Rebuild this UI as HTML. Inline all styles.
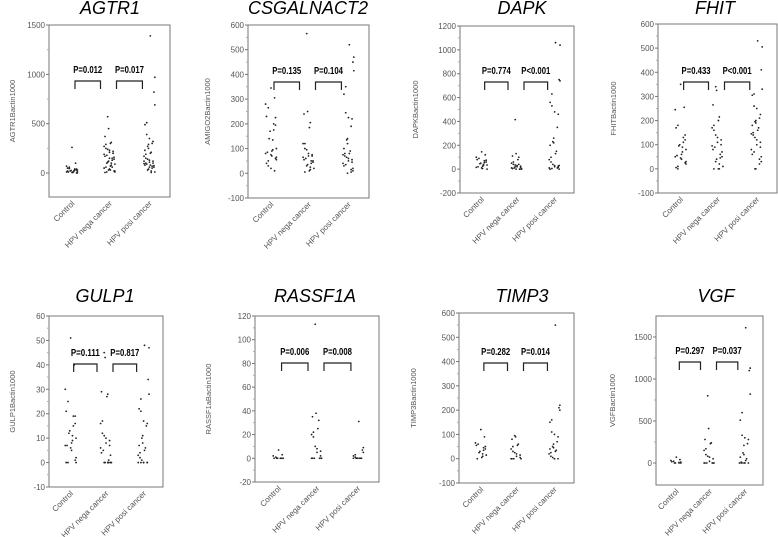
<!DOCTYPE html>
<html><head><meta charset="utf-8"><style>
html,body{margin:0;padding:0;background:#fff;}
svg{display:block;font-family:"Liberation Sans",sans-serif;}
</style></head><body>
<svg id="fig" width="778" height="537" viewBox="0 0 778 537"></svg>
<script>
const categories = ["Control","HPV nega cancer","HPV posi cancer"];
const genes = ["AGTR1","CSGALNACT2","DAPK","FHIT","GULP1","RASSF1A","TIMP3","VGF"];
const yLabels = ["AGTR1Bactin1000","AMIGO2Bactin1000","DAPKBactin1000","FHITBactin1000","GULP1Bactin1000","RASSF1aBactin1000","TIMP3Bactin1000","VGFBactin1000"];
const pLeft = ["P=0.012","P=0.135","P=0.774","P=0.433","P=0.111","P=0.006","P=0.282","P=0.297"];
const pRight = ["P=0.017","P=0.104","P<0.001","P<0.001","P=0.817","P=0.008","P=0.014","P=0.037"];
const yMin = [-243,-100,-200,-100,-10,-20,-100,-262];
const yMax = [1500,600,1200,600,60,120,600,1750];
const tickVals = [[0,500,1000,1500],[-100,0,100,200,300,400,500,600],[-200,0,200,400,600,800,1000,1200],[-100,0,100,200,300,400,500,600],[-10,0,10,20,30,40,50,60],[-20,0,20,40,60,80,100,120],[-100,0,100,200,300,400,500,600],[0,500,1000,1500]];
const controlVals = [
[260,100,70,60,50,40,40,30,30,25,20,20,15,15,10,10,10,5,5,0,0,30,45,20],
[345,305,280,265,230,225,200,195,175,170,140,135,100,95,90,85,80,75,70,65,60,55,50,40,30,20,10],
[145,120,100,90,80,75,70,60,55,50,45,40,35,30,25,20,15,10,5,0],
[350,255,245,180,170,140,130,120,110,100,95,90,80,70,60,55,50,45,40,30,25,20,10,5,0],
[51,40,30,25,21,19,19,16,15,13,12,11,10,9,8,7,7,6,5,2,1,0,0,0],
[7,3,2,1,0,0,0,0,0,0,0,0],
[120,90,65,60,55,50,45,40,35,30,25,20,15,10,5,0],
[70,40,30,20,15,10,5,0,0,0,0]];
const negaVals = [
[570,450,370,310,300,290,270,250,240,230,220,210,200,190,180,170,160,150,140,130,120,110,100,90,80,70,60,50,40,30,20,20,10,10,5,100,150,200,60,30],
[565,250,240,205,185,120,120,100,95,80,75,70,70,65,60,55,50,50,45,40,35,30,25,20,15,10,5],
[415,130,110,100,80,60,50,40,35,30,25,20,15,10,10,5,5,0,0,0,0,20,40],
[340,325,265,215,200,180,170,160,140,130,120,110,100,95,90,80,70,60,50,45,40,30,20,10,0,0,0],
[45,43,29,28,27,17,16,12,11,10,9,8,7,6,5,4,3,1,0,0,0,0,0,0,0],
[113,38,35,32,25,22,20,18,10,8,6,5,2,0,0,0,0,0,0,0],
[95,90,80,60,55,50,40,30,25,20,15,10,5,0,0,0,0],
[800,410,280,240,230,170,150,100,80,70,50,20,0,0,0,0,0,0]];
const posiVals = [
[1390,970,820,690,510,490,390,350,320,300,290,270,250,230,210,200,190,170,150,140,130,120,110,100,95,90,80,75,70,60,50,40,30,20,10,5,80,100,120,60],
[520,470,450,415,350,320,245,225,220,190,140,135,120,100,90,80,80,75,70,65,60,55,50,45,40,35,30,20,15,10,5,0],
[1060,1040,750,740,630,560,530,480,460,350,260,230,220,200,150,130,100,80,60,40,30,25,20,15,10,5,0,0,10,30],
[530,505,410,330,310,305,260,250,225,210,200,195,190,180,170,160,150,145,140,130,120,110,100,90,80,70,60,50,40,30,20,0,0],
[48,47,34,28,26,22,21,17,16,15,11,10,8,7,6,5,4,3,2,1,0,0,0,0,0,0],
[31,9,7,5,3,2,1,0,0,0,0,0,0,0,0],
[550,220,210,200,160,150,110,100,90,70,60,50,45,40,35,30,25,20,10,5,0,0,0],
[1610,1130,1100,820,600,510,330,300,280,230,210,120,100,70,50,30,10,0,0,0,0,0,0]];

const boxes = [
 {l:49,r:170,t:25,b:197,tx:110,ty:14,yl:12,br:81},
 {l:248,r:369,t:25,b:198,tx:308,ty:14,yl:207,br:82},
 {l:460,r:574,t:26,b:193,tx:522,ty:14,yl:415,br:82},
 {l:658,r:777,t:24,b:193,tx:715,ty:14,yl:613,br:82},
 {l:49,r:163,t:316,b:487,tx:105,ty:302,yl:12,br:364},
 {l:255,r:379,t:316,b:482,tx:315,ty:302,yl:208,br:363},
 {l:459,r:574,t:313,b:483,tx:522,ty:302,yl:413,br:363},
 {l:656,r:763,t:316,b:485,tx:716,ty:302,yl:612,br:362}];
const jitterPattern=[0,-5,3,-2,6,-6,1,4,-3,5,-1,2,-4,6,-6,0,3,-5,1,-2,5,-3,4,-1,2,-4,0,6,-5,3,-2,1,-6,4,-3,5,-1,2,-4,0];

const NS="http://www.w3.org/2000/svg";
const svg=document.getElementById('fig');
function mk(tag,attrs,parent){const e=document.createElementNS(NS,tag);for(const k in attrs)e.setAttribute(k,attrs[k]);(parent||svg).appendChild(e);return e;}

genes.forEach((g,i)=>{
  const B=boxes[i];
  const grp=mk('g',{});
  
  
  const y=v=>B.b-(v-yMin[i])/(yMax[i]-yMin[i])*(B.b-B.t);
  const w=B.r-B.l;
  const cx=k=>B.l+w*[0.19,0.5,0.83][k];
  const title=mk('text',{x:B.tx,y:B.ty,'text-anchor':'middle','font-size':18,'font-style':'italic',fill:'#000'},grp);
  title.textContent=g;
  
  
  const box=mk('rect',{x:B.l,y:B.t,width:w,height:B.b-B.t,fill:'none',stroke:'#777','stroke-width':1},grp);
  
  
  const tv0=tickVals[i];
  tv0.forEach((tv,n)=>{
    const ty=y(tv);
    mk('line',{x1:B.l-3,x2:B.l,y1:ty,y2:ty,stroke:'#777'},grp);
    if(n<tv0.length-1){const my=(ty+y(tv0[n+1]))/2;mk('line',{x1:B.l-2,x2:B.l,y1:my,y2:my,stroke:'#aaa'},grp);}
    const t=mk('text',{x:B.l-4,y:ty+3,'text-anchor':'end','font-size':8,fill:'#555'},grp);
    t.textContent=tv;
    
    
  });
  const yl=mk('text',{transform:`translate(${B.yl+3},${(B.t+B.b)/2}) rotate(-90)`,'text-anchor':'middle','font-size':7.5,fill:'#555'},grp);
  yl.textContent=yLabels[i];
  
  
  categories.forEach((c,k)=>{
    const x=cx(k)+3, yy=B.b+7;
    const t=mk('text',{transform:`translate(${x},${yy}) rotate(-45)`,'text-anchor':'end','font-size':8,fill:'#555'},grp);
    t.textContent=c;
    
    
  });
  [controlVals[i],negaVals[i],posiVals[i]].forEach((arr,k)=>{
    arr.forEach((v,j)=>{
      const jit=jitterPattern[(j*7+k*3)%jitterPattern.length]*0.9;
      const d=mk('circle',{cx:cx(k)+jit,cy:y(v),r:0.9,fill:'#222'},grp);
      
      
    });
  });
  const brs=[[cx(0)+3,cx(1)-9,pLeft[i]],[cx(1)+7,cx(2)-7,pRight[i]]];
  brs.forEach(([a,b,lab])=>{
    const p=mk('path',{d:`M${a},${B.br+8}V${B.br}H${b}V${B.br+8}`,fill:'none',stroke:'#222','stroke-width':1.2},grp);
    
    
    const t=mk('text',{x:(a+b)/2,y:B.br-8,'text-anchor':'middle','font-size':10,'font-weight':'bold',fill:'#000',textLength:29,lengthAdjust:'spacingAndGlyphs'},grp);
    t.textContent=lab;
    
    
  });
});
</script>
</body></html>
